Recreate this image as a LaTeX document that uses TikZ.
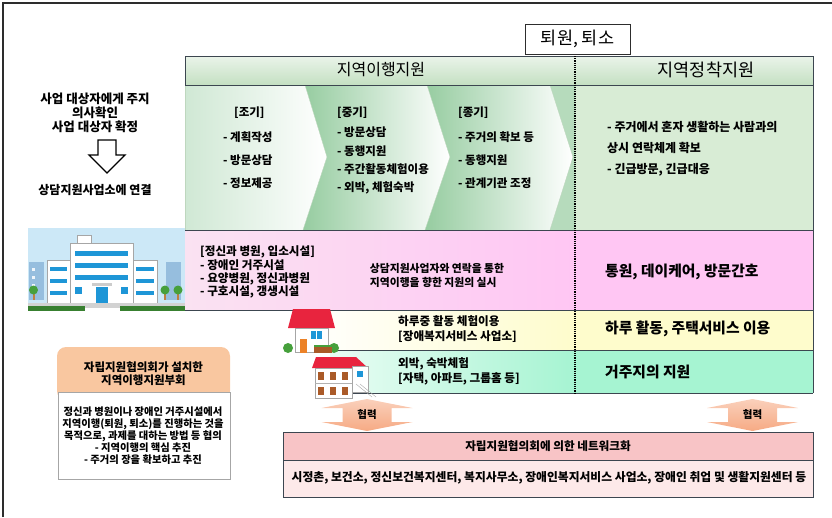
\documentclass[tikz,border=0pt]{standalone}
\usepackage{fontspec}
\setmainfont{Noto Sans CJK KR}
\definecolor{framegray}{RGB}{45,45,45}
\definecolor{edgegray}{RGB}{60,70,80}
\definecolor{hdgreen}{RGB}{196,224,194}
\definecolor{paleleaf}{RGB}{216,236,213}
\definecolor{chevgreen}{RGB}{150,204,160}
\definecolor{chevedge}{RGB}{190,215,190}
\definecolor{rosepink}{RGB}{255,198,243}
\definecolor{blushpink}{RGB}{250,226,242}
\definecolor{cream}{RGB}{254,252,204}
\definecolor{mint}{RGB}{166,244,210}
\definecolor{peach}{RGB}{249,199,160}
\definecolor{coral}{RGB}{246,170,132}
\definecolor{netpink}{RGB}{248,196,198}
\definecolor{netpale}{RGB}{253,233,233}
\definecolor{skyblue}{RGB}{204,232,247}
\definecolor{towerblue}{RGB}{150,190,222}
\definecolor{winblue}{RGB}{30,150,215}
\definecolor{treegreen}{RGB}{70,160,60}
\definecolor{roofred}{RGB}{232,36,62}
\definecolor{doororange}{RGB}{236,130,40}
\definecolor{winbrown}{RGB}{170,90,40}

\begin{document}
\begin{tikzpicture}[x=1pt, y=-1pt,
    every node/.style={inner sep=0pt},
    headtext/.style={font=\fontsize{16}{19}\selectfont},
    itemtext/.style={font=\bfseries\fontsize{11.5}{13.5}\selectfont},
    rowtext/.style={font=\bfseries\fontsize{11.6}{15}\selectfont, align=left},
    bigtext/.style={font=\bfseries\fontsize{14.8}{17}\selectfont},
    sidetext/.style={font=\bfseries\fontsize{12.5}{14}\selectfont, align=center},
    rowline/.style={draw=edgegray, line width=1pt},
    wall/.style={fill=white, draw=gray!70, line width=0.5pt}]

\useasboundingbox (0,0) rectangle (832,517);

% outer frame, top and left only
\draw[framegray, line width=1.5pt] (3,517) -- (3,3) -- (832,3);

% ---- bands of the main table ----
\shade[top color=hdgreen!35!white, bottom color=hdgreen] (185,56) rectangle (813,85);
\fill[paleleaf] (575,85) rectangle (813,230);
\shade[left color=chevgreen!45!white, right color=white] (185,85) -- (305,85) -- (327,157) -- (303,230) -- (185,230) -- cycle;
\shade[left color=chevgreen, right color=white] (305,85) -- (427,85) -- (450,157) -- (425,230) -- (303,230) -- (327,157) -- cycle;
\shade[left color=chevgreen, right color=white] (427,85) -- (550,85) -- (573,157) -- (550,230) -- (425,230) -- (450,157) -- cycle;
\fill[chevgreen!70!white] (550,85) -- (575,85) -- (575,230) -- (550,230) -- (573,157) -- cycle;
\draw[chevedge] (305,85) -- (327,157) -- (303,230);
\draw[chevedge] (427,85) -- (450,157) -- (425,230);
\draw[chevedge] (550,85) -- (573,157) -- (550,230);
\draw[chevedge] (185,85) -- (185,230);

\shade[left color=blushpink, right color=rosepink] (185,230) rectangle (575,310);
\fill[rosepink] (575,230) rectangle (813,310);
\shade[left color=white, right color=cream] (300,310) rectangle (575,350);
\fill[cream] (575,310) rectangle (813,350);
\shade[left color=mint!25!white, right color=mint] (330,350) rectangle (575,393);
\fill[mint] (575,350) rectangle (813,393);

\draw[rowline] (185,85) -- (185,56) -- (813,56) -- (813,393);
\draw[rowline] (185,85) -- (813,85);
\draw[rowline] (185,230) -- (813,230);
\draw[rowline] (185,310) -- (813,310);
\draw[rowline] (330,350) -- (813,350);
\draw[rowline] (350,393) -- (813,393);
\draw[black, line width=2.2pt, dash pattern=on 1.1pt off 1.1pt] (575,56) -- (575,393);

\node[draw=framegray, line width=1pt, fill=white, minimum width=105pt, minimum height=30pt,
      font=\fontsize{17.5}{20}\selectfont] (discharge) at (577.5,39) {퇴원, 퇴소};
\node[headtext] (moveout) at (381,70) {지역이행지원};
\node[headtext, font=\fontsize{17.5}{20}\selectfont] (settle) at (706,70) {지역정착지원};

% stages
\node[itemtext, anchor=west] (early) at (234,113) {[조기]};
\foreach \t/\y [count=\i] in {{- 계획작성}/137, {- 방문상담}/160, {- 정보제공}/183}
  \node[itemtext, anchor=west] (early\i) at (223,\y) {\t};
\node[itemtext, anchor=west] (middle) at (337,113) {[중기]};
\foreach \t/\y [count=\i] in {{- 방문상담}/132, {- 동행지원}/151, {- 주간활동체험이용}/169, {- 외박, 체험숙박}/188}
  \node[itemtext, anchor=west] (middle\i) at (337,\y) {\t};
\node[itemtext, anchor=west] (final) at (458,113) {[종기]};
\foreach \t/\y [count=\i] in {{- 주거의 확보 등}/137, {- 동행지원}/160, {- 관계기관 조정}/183}
  \node[itemtext, anchor=west] (final\i) at (458,\y) {\t};
\foreach \t/\y [count=\i] in {{- 주거에서 혼자 생활하는 사람과의}/127, {상시 연락체계 확보}/148, {- 긴급방문, 긴급대응}/170}
  \node[itemtext, font=\bfseries\fontsize{12}{14}\selectfont, anchor=west] (contact\i) at (607,\y) {\t};

% pink row
\foreach \t/\y [count=\i] in {{[정신과 병원, 입소시설]}/252, {- 장애인 거주시설}/265, {- 요양병원, 정신과병원}/279, {- 구호시설, 갱생시설}/292}
  \node[itemtext, font=\bfseries\fontsize{11.6}{13}\selectfont, anchor=west] (facility\i) at (200,\y) {\t};
\node[itemtext, font=\bfseries\fontsize{10.8}{14}\selectfont, align=left] (liaison) at (437,275)
  {상담지원사업자와 연락을 통한\\지역이행을 향한 지원의 실시};
\node[bigtext, anchor=west] (visit) at (605,272) {통원, 데이케어, 방문간호};

% yellow and mint rows
\node[rowtext, anchor=west] (daytrial) at (398,329.5) {하루중 활동 체험이용\\{[}장애복지서비스 사업소]};
\node[bigtext, anchor=west] (dayuse) at (605,329) {하루 활동, 주택서비스 이용};
\node[rowtext, anchor=west] (staytrial) at (398,371.5) {외박, 숙박체험\\{[}자택, 아파트, 그룹홈 등]};
\node[bigtext, anchor=west] (residence) at (605,372) {거주지의 지원};

% hospital building
\fill[skyblue] (28,228) rectangle (185,304);
\fill[towerblue] (29,262) rectangle (44,300);
\fill[towerblue] (166,262) rectangle (181,300);
\foreach \wy in {268,276,284}
  \fill[white!85!towerblue] (32,\wy) rectangle (35,\wy+3);
\filldraw[wall] (70,243) rectangle (133,303);
\filldraw[wall] (77,235) rectangle (91,243);
\filldraw[wall] (47,260) rectangle (70,303);
\filldraw[wall] (133,260) rectangle (157,303);
\foreach \wy in {251,263,275}
  \fill[winblue] (75,\wy) rectangle (128,\wy+5);
\foreach \wy in {267,279,291} {
  \fill[winblue] (50,\wy) rectangle (67,\wy+4);
  \fill[winblue] (136,\wy) rectangle (154,\wy+4);
}
\fill[winblue] (75,287) rectangle (82,294);
\fill[winblue] (121,287) rectangle (128,294);
\fill[gray!40] (92,283) rectangle (112,286);
\fill[winblue] (96,287) rectangle (108,303);
\fill[brown] (33,292) rectangle (34.5,300);
\fill[brown] (164,292) rectangle (165.5,300);
\fill[brown] (177,292) rectangle (178.5,300);
\fill[treegreen] (33.5,290) circle (4.5);
\fill[treegreen] (165,290) circle (4.5);
\fill[treegreen] (178,290) circle (4.5);
\fill[gray!35] (28,303) rectangle (185,308);
\fill[treegreen!80!black] (28,306) rectangle (85,311);
\fill[treegreen!80!black] (120,306) rectangle (185,311);

% detached house
\fill[roofred] (293,309) -- (330,309) -- (335,328) -- (288,328) -- cycle;
\filldraw[wall] (295,328) rectangle (328,352);
\fill[winblue] (311,331) rectangle (316,339);
\fill[winblue] (317,331) rectangle (322,339);
\fill[doororange] (300,339) rectangle (307,353);
\fill[treegreen] (288,348) circle (5);
\fill[treegreen] (334,348) circle (5);
\fill[winbrown] (314,347) rectangle (332,353);
\fill[treegreen] (314,345) rectangle (332,347);

% apartment house
\fill[roofred] (316,357) -- (356,357) -- (368,368) -- (312,368) -- cycle;
\filldraw[wall] (352,366) rectangle (368,392);
\filldraw[wall] (315,368) rectangle (352,398);
\foreach \wx in {318,330,342} {
  \fill[winbrown] (\wx,372) rectangle (\wx+6,380);
  \fill[winbrown] (\wx,387) rectangle (\wx+6,395);
}
\draw[gray!60] (315,383.5) -- (352,383.5);
\fill[winblue] (357,371) rectangle (363,377);
\draw[gray!70] (356,384) -- (372,397);
\draw[gray!70] (360,384) -- (376,397);

% left column
\node[sidetext] (notice) at (95,113) {사업 대상자에게 주지\\의사확인\\사업 대상자 확정};
\draw[line width=1.3pt, fill=white] (98,140) -- (116,140) -- (116,155) -- (125,155)
  -- (107,173) -- (89,155) -- (98,155) -- cycle;
\node[sidetext, font=\bfseries\fontsize{12}{14}\selectfont] (link) at (95,190) {상담지원사업소에 연결};

% subcommittee
\fill[peach] [rounded corners=9pt] (57,347) rectangle (230,400);
\node[font=\bfseries\fontsize{11.5}{13}\selectfont, align=center] (subcommittee) at (143.5,373.5)
  {자립지원협의회가 설치한\\지역이행지원부회};
\filldraw[fill=white, draw=gray!70, line width=0.8pt] (58,392) rectangle (230,479);
\node[font=\bfseries\fontsize{10.3}{12}\selectfont, align=center] (agenda) at (143,435.5)
  {정신과 병원이나 장애인 거주시설에서\\지역이행(퇴원, 퇴소)를 진행하는 것을\\목적으로, 과제를 대하는 방법 등 협의\\- 지역이행의 핵심 추진\\- 주거의 장을 확보하고 추진};

% cooperation arrows
\foreach \cx/\nm in {367/coopleft, 752.5/coopright} {
  \shade[top color=coral!55!white, bottom color=coral]
    (\cx,399) -- (\cx+45.5,408) -- (\cx+24.5,408) -- (\cx+24.5,422) -- (\cx+45.5,422)
    -- (\cx,431) -- (\cx-45.5,422) -- (\cx-24.5,422) -- (\cx-24.5,408) -- (\cx-45.5,408) -- cycle;
  \node[font=\bfseries\fontsize{10.5}{12}\selectfont] (\nm) at (\cx,415) {협력};
}

% network box
\fill[netpink] (283,432) rectangle (813,460);
\fill[netpale] (283,460) rectangle (813,497);
\draw[rowline] (283,432) rectangle (813,497);
\draw[rowline] (283,460) -- (813,460);
\node[font=\bfseries\fontsize{11.6}{13}\selectfont] (network) at (548,446) {자립지원협의회에 의한 네트워크화};
\node[font=\bfseries\fontsize{11.8}{13}\selectfont] (agencies) at (549,478)
  {시정촌, 보건소, 정신보건복지센터, 복지사무소, 장애인복지서비스 사업소, 장애인 취업 및 생활지원센터 등};
\end{tikzpicture}
\end{document}
